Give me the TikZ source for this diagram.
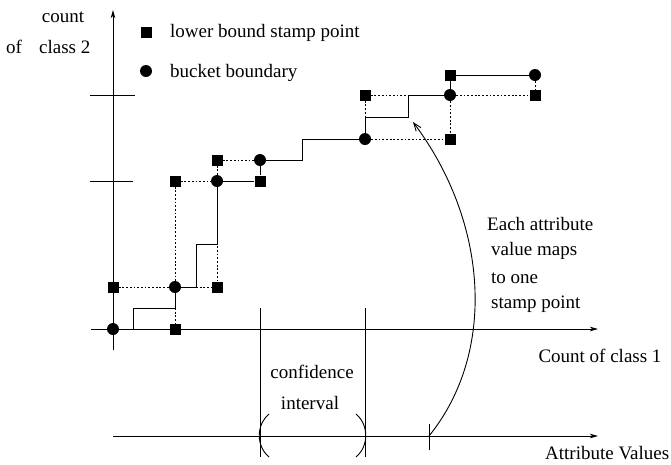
\documentclass[tikz,border=0pt]{standalone}
\usepackage{fontspec}
\setmainfont{Liberation Serif}
\newfontfamily\tmsfont{Liberation Serif}
\usetikzlibrary{arrows.meta}
\begin{document}
\begin{tikzpicture}[x=1pt,y=-1pt,
  every node/.style={font=\tmsfont\fontsize{19}{22}\selectfont},
  ln/.style={line width=0.9pt},
  dot/.style={line width=1pt,dash pattern=on 1.8pt off 1.9pt},
  sq/.style={rectangle,fill,minimum size=11pt,inner sep=0pt},
  bnd/.style={circle,fill,minimum size=12pt,inner sep=0pt},
  ax/.style={line width=0.9pt,-{Stealth[length=8pt,width=4.5pt,inset=2pt]}},
  txt/.style={inner sep=0pt}]
\useasboundingbox (0,0) rectangle (671,464);

% axes and ticks
\coordinate (yb) at (113,350); \coordinate (yt) at (113,10);
\coordinate (xl) at (91,329); \coordinate (xr) at (598,329);
\coordinate (al) at (113,436); \coordinate (ar) at (598,436);
\draw[ax] (yb) -- (yt);
\draw[ax] (xl) -- (xr);
\draw[ax] (al) -- (ar);
\coordinate (t1a) at (90,95); \coordinate (t1b) at (135,95);
\coordinate (t2a) at (90,181); \coordinate (t2b) at (133,181);
\draw[ln] (t1a) -- (t1b);
\draw[ln] (t2a) -- (t2b);
\coordinate (v1a) at (260,308); \coordinate (v1b) at (260,457);
\coordinate (v2a) at (365,308); \coordinate (v2b) at (365,457);
\draw[ln] (v1a) -- (v1b);
\draw[ln] (v2a) -- (v2b);
\coordinate (am) at (429,436);
\coordinate (ama) at (429,424); \coordinate (amb) at (429,450);
\draw[ln] (ama) -- (amb);
% parentheses
\coordinate (pl1) at (269,414); \coordinate (pl2) at (269,457);
\coordinate (pr1) at (356,414); \coordinate (pr2) at (356,457);
\draw[ln] (pl1) .. controls (256,425) and (256,446) .. (pl2);
\draw[ln] (pr1) .. controls (369,425) and (369,446) .. (pr2);

% markers
\node[bnd] (c1) at (113,329) {};
\node[sq]  (s1) at (175,329) {};
\node[sq]  (s2) at (113,287) {};
\node[bnd] (c2) at (175,287) {};
\node[sq]  (s3) at (217,287) {};
\node[sq]  (s4) at (175,181) {};
\node[bnd] (c3) at (217,181) {};
\node[sq]  (s5) at (260,181) {};
\node[sq]  (s6) at (217,160) {};
\node[bnd] (c4) at (260,160) {};
\node[sq]  (s7) at (365,95) {};
\node[bnd] (c5) at (365,139) {};
\node[sq]  (s8) at (450,139) {};
\node[bnd] (c6) at (450,95) {};
\node[sq]  (s9) at (535,95) {};
\node[sq]  (s10) at (450,75) {};
\node[bnd] (c7) at (535,75) {};

% dotted lines
\draw[dot] (s2) -- (c2);
\draw[dot] (c2) -- (s3);
\draw[dot] (c2) -- (s1);
\draw[dot] (s3) -- (c3);
\draw[dot] (s4) -- (c2);
\draw[dot] (s4) -- (c3);
\draw[dot] (s6) -- (c4);
\draw[dot] (s6) -- (c3);
\draw[dot] (s7) -- (c6);
\draw[dot] (s7) -- (c5);
\draw[dot] (c5) -- (s8);
\draw[dot] (c6) -- (s8);
\draw[dot] (c6) -- (s9);
\draw[dot] (c7) -- (s9);

% solid staircase
\coordinate (k1) at (133,329);
\draw[ln] (k1) -- (133,308) -| (c2);
\draw[ln] (c2) -- (196,287) |- (217,244) -- (c3);
\draw[ln] (c3) -- (s5);
\draw[ln] (s5) -- (c4);
\draw[ln] (c4) -- (302,160) |- (c5);
\draw[ln] (c5) -- (365,117) -| (408,95) -- (c6);
\draw[ln] (c6) -- (s10);
\draw[ln] (s10) -- (c7);

% curved arrow
\coordinate (ah) at (413,122);
\draw[line width=0.9pt,-{Straight Barb[length=8pt,width=6pt]}] (am) .. controls (497,352) and (488,222) .. (ah);

% legend
\node[sq] (ls) at (146,32) {};
\node[bnd] (lc) at (146,71) {};
\node[txt,anchor=west] (lt1) at (170,33) {lower bound stamp point};
\node[txt,anchor=west] (lt2) at (170,73) {bucket boundary};

% labels
\node[txt] (ylab1) at (63,17) {count};
\node[txt,anchor=west] (ylab2) at (6,47) {of\hspace{0.9em}class 2};
\node[txt] (xlab) at (600,356) {Count of class 1};
\node[txt,anchor=west] (alab) at (545,453) {Attribute Values};
\node[txt] (ci1) at (312,372) {confidence};
\node[txt] (ci2) at (310,403) {interval};
\node[txt,anchor=west] (e1) at (487,224) {Each attribute};
\node[txt,anchor=west] (e2) at (491,251) {value maps};
\node[txt,anchor=west] (e3) at (491,278) {to one};
\node[txt,anchor=west] (e4) at (491,304) {stamp point};
\end{tikzpicture}
\end{document}
